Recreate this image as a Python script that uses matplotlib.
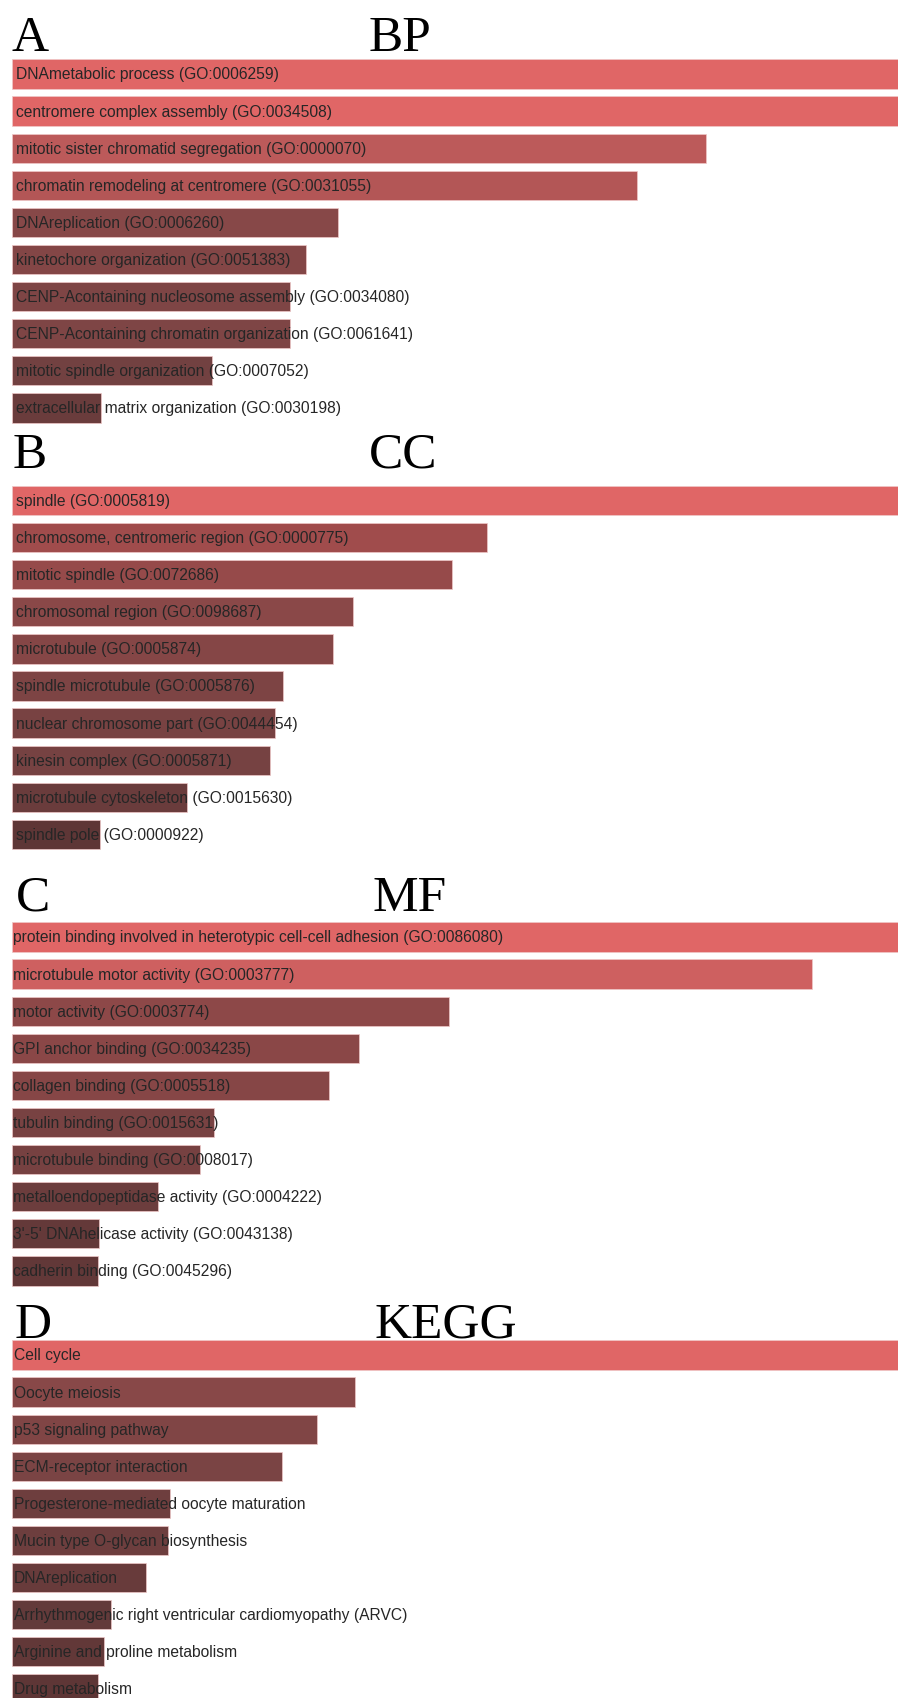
import matplotlib
matplotlib.use("Agg")
import matplotlib.pyplot as plt

# Enrichment bar lengths (same scale for every panel)
bp_terms = ["DNAmetabolic process (GO:0006259)",
            "centromere complex assembly (GO:0034508)",
            "mitotic sister chromatid segregation (GO:0000070)",
            "chromatin remodeling at centromere (GO:0031055)",
            "DNAreplication (GO:0006260)",
            "kinetochore organization (GO:0051383)",
            "CENP-Acontaining nucleosome assembly (GO:0034080)",
            "CENP-Acontaining chromatin organization (GO:0061641)",
            "mitotic spindle organization (GO:0007052)",
            "extracellular matrix organization (GO:0030198)"]
bp_values = [1000, 1000, 694, 625, 326, 294, 278, 278, 200, 89]
bp_colors = ["#E06666", "#E06666", "#BC5A5A", "#B35656", "#874848",
             "#834646", "#7E4545", "#7E4545", "#724141", "#6A3C3C"]

cc_terms = ["spindle (GO:0005819)",
            "chromosome, centromeric region (GO:0000775)",
            "mitotic spindle (GO:0072686)",
            "chromosomal region (GO:0098687)",
            "microtubule (GO:0005874)",
            "spindle microtubule (GO:0005876)",
            "nuclear chromosome part (GO:0044454)",
            "kinesin complex (GO:0005871)",
            "microtubule cytoskeleton (GO:0015630)",
            "spindle pole (GO:0000922)"]
cc_values = [1000, 475, 440, 341, 321, 271, 263, 258, 175, 88]
cc_colors = ["#E06666", "#A04C4C", "#964A4A", "#8A4848", "#854646",
             "#7D4444", "#784242", "#764242", "#6A3C3C", "#5E3636"]

mf_terms = ["protein binding involved in heterotypic cell-cell adhesion (GO:0086080)",
            "microtubule motor activity (GO:0003777)",
            "motor activity (GO:0003774)",
            "GPI anchor binding (GO:0034235)",
            "collagen binding (GO:0005518)",
            "tubulin binding (GO:0015631)",
            "microtubule binding (GO:0008017)",
            "metalloendopeptidase activity (GO:0004222)",
            "3'-5' DNAhelicase activity (GO:0043138)",
            "cadherin binding (GO:0045296)"]
mf_values = [1000, 800, 437, 347, 317, 202, 188, 146, 87, 86]
mf_colors = ["#E06666", "#CE6060", "#8D4848", "#8A4747", "#864646",
             "#784242", "#764141", "#6C3D3D", "#643939", "#623838"]

kegg_terms = ["Cell cycle",
              "Oocyte meiosis",
              "p53 signaling pathway",
              "ECM-receptor interaction",
              "Progesterone-mediated oocyte maturation",
              "Mucin type O-glycan biosynthesis",
              "DNAreplication",
              "Arrhythmogenic right ventricular cardiomyopathy (ARVC)",
              "Arginine and proline metabolism",
              "Drug metabolism"]
kegg_values = [1000, 343, 305, 270, 158, 156, 134, 99, 92, 86]
kegg_colors = ["#E06666", "#884848", "#804545", "#7A4444", "#6E3E3E",
               "#6D3E3E", "#683B3B", "#633A3A", "#623838", "#5E3636"]

W, H = 898, 1699
fig = plt.figure(figsize=(W / 100, H / 100), dpi=100)

panels = [
    # letter, title, terms, values, colors, first bar center (px), text pad, title baseline
    ("A", "BP", bp_terms, bp_values, bp_colors, 75.0, 5, 51),
    ("B", "CC", cc_terms, cc_values, cc_colors, 501.5, 4, 468),
    ("C", "MF", mf_terms, mf_values, mf_colors, 938.0, 1.5, 911),
    ("D", "KEGG", kegg_terms, kegg_values, kegg_colors, 1356.0, 2, 1338),
]
pitch = 37.1
left = 11.5

for letter, title, terms, values, colors, y0, pad, base in panels:
    top = y0 - pitch / 2
    bottom = top + pitch * len(terms)
    ax = fig.add_axes([0, 1 - bottom / H, 1, (bottom - top) / H])
    ax.set_xlim(-left, W - left)
    ax.set_ylim(len(terms) - 0.5, -0.5)
    ax.barh(range(len(terms)), values, height=0.79, color=colors,
            edgecolor="#EFC8C8", linewidth=0.5)
    for i, t in enumerate(terms):
        ax.text(pad, i, t, va="center", ha="left", fontsize=11.25,
                family="Liberation Sans", color="#262626")
    ax.axis("off")

    lx = {"A": 12, "B": 13, "C": 16, "D": 15}[letter]
    tx = {"BP": 369, "CC": 369, "MF": 372, "KEGG": 375}[title]
    fig.text(lx / W, 1 - base / H, letter, family="Liberation Serif",
             fontsize=37, va="baseline", ha="left")
    fig.text(tx / W, 1 - base / H, title, family="Liberation Serif",
             fontsize=37, va="baseline", ha="left")

fig.savefig("out.png", dpi=100)
